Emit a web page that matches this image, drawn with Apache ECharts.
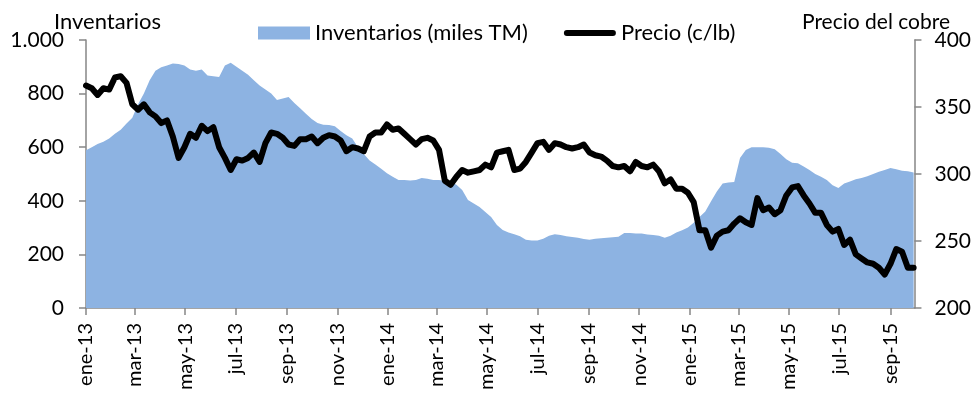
<!DOCTYPE html>
<html>
<head>
<meta charset="utf-8">
<script src="https://cdn.jsdelivr.net/npm/echarts@6/dist/echarts.min.js"></script>
<style>
  html, body { margin: 0; padding: 0; background: #fff; }
  #chart { width: 974px; height: 395px; }
</style>
</head>
<body>
<div id="chart"></div>
<script>
// Weekly observations, starting 2013-01-01, one value every 7 days
const startDate = '2013-01-01';
const endDate = '2015-09-30';
const stepDays = 7;

// LME copper inventories (thousand tonnes)
const inventarios = [
  589, 600, 612, 620, 632, 650, 665, 688, 710, 760,
  800, 850, 885, 898, 905, 912, 910, 905, 890, 885,
  890, 868, 865, 862, 905, 915, 900, 885, 870, 850,
  830, 815, 800, 776, 782, 787, 765, 745, 725, 705,
  690, 684, 683, 678, 660, 645, 632, 600, 575, 550,
  535, 520, 503, 490, 478, 478, 476, 478, 485, 482,
  478, 478, 474, 470, 460, 440, 403, 390, 377, 358,
  340, 310, 291, 282, 275, 268, 255, 252, 252, 258,
  270, 275, 272, 268, 265, 262, 257, 255, 258, 260,
  262, 264, 266, 280, 280, 278, 278, 274, 272, 270,
  262, 270, 282, 290, 300, 318, 340, 360, 398, 435,
  465, 468, 470, 560, 590, 600, 600, 600, 598, 592,
  575, 555, 542, 540, 528, 515, 500, 490, 478, 458,
  448, 465, 472, 480, 485, 492, 500, 508, 515, 522,
  518, 512, 510, 506
];

// Copper price (US cents per pound)
const precio = [
  366, 364, 359, 364, 363, 372, 373, 368, 352, 348,
  352, 346, 343, 338, 340, 328, 312, 320, 330, 327,
  336, 332, 335, 320, 312, 303, 311, 310, 312, 316,
  309, 323, 331, 330, 327, 322, 321, 326, 326, 328,
  323, 327, 329, 328, 325, 317, 320, 319, 317, 328,
  331, 331, 337, 333, 334, 330, 326, 322, 326, 327,
  325, 318, 295, 292, 298, 303, 301, 302, 303, 307,
  305, 316, 317, 318, 303, 304, 309, 316, 323, 324,
  318, 323, 322, 320, 319, 320, 322, 316, 314, 313,
  310, 306, 305, 306, 302, 309, 306, 305, 307, 302,
  293, 296, 289, 289, 286, 279, 258, 258, 245, 254,
  257, 258, 263, 267, 264, 262, 282, 273, 275, 270,
  273, 284, 290, 291, 284, 278, 271, 271, 262, 257,
  259, 247, 251, 240, 237, 234, 233, 230, 225, 233,
  244, 242, 230, 230
];

const mesesAbrev = ['ene', 'feb', 'mar', 'abr', 'may', 'jun', 'jul', 'ago', 'sep', 'oct', 'nov', 'dic'];
const serieInventarios = 'Inventarios (miles TM)';
const seriePrecio = 'Precio (c/lb)';

// Daily calendar for the date axis
const dias = [];
{
  const d = new Date(startDate + 'T00:00:00Z');
  const fin = new Date(endDate + 'T00:00:00Z');
  while (d <= fin) {
    dias.push(d.toISOString().slice(0, 10));
    d.setUTCDate(d.getUTCDate() + 1);
  }
}

// Major ticks every two months (ene, mar, may, ...)
function esMarcaBimestral(idx) {
  const s = dias[idx];
  const mes = +s.slice(5, 7) - 1;
  return s.slice(8, 10) === '01' && mes % 2 === 0;
}
function etiquetaMes(s) {
  const mes = +s.slice(5, 7) - 1;
  return mesesAbrev[mes] + '-' + s.slice(2, 4);
}

const FONT = 'Lato';
const gris = '#868686';

// Thick rounded stroke for the price legend key (corner moves keep the 52x13 box)
const iconoLinea = 'path://M0,0M52,13M3,3.5A3,3,0,0,0,3,9.5L49,9.5A3,3,0,0,0,49,3.5Z';

const chart = echarts.init(document.getElementById('chart'), null, { renderer: 'canvas' });
chart.setOption({
  animation: false,
  textStyle: { fontFamily: FONT, color: '#000' },
  title: [
    { text: 'Inventarios', left: 49, top: 6, textStyle: { fontFamily: FONT, fontSize: 22, fontWeight: 'normal', color: '#000' } },
    { text: 'Precio del cobre', left: 797, top: 7, textStyle: { fontFamily: FONT, fontSize: 21, fontWeight: 'normal', color: '#000' } }
  ],
  legend: {
    left: 253,
    top: 17,
    itemWidth: 52,
    itemHeight: 13,
    itemGap: 36,
    textStyle: { fontFamily: FONT, fontSize: 22, color: '#000' },
    data: [
      { name: serieInventarios, icon: 'rect' },
      { name: seriePrecio, icon: iconoLinea }
    ]
  },
  grid: { left: 86, right: 59, top: 40, bottom: 87, containLabel: false },
  xAxis: {
    type: 'category',
    data: dias,
    boundaryGap: false,
    axisLine: { lineStyle: { color: gris, width: 1.5 } },
    axisTick: {
      interval: (i) => esMarcaBimestral(i),
      length: 7,
      lineStyle: { color: gris, width: 1.5 }
    },
    axisLabel: {
      interval: (i) => esMarcaBimestral(i),
      formatter: (v) => etiquetaMes(v),
      rotate: 90,
      margin: 15,
      fontFamily: FONT,
      fontSize: 20,
      color: '#000'
    },
    splitLine: { show: false }
  },
  yAxis: [
    {
      type: 'value',
      min: 0,
      max: 1000,
      interval: 200,
      position: 'left',
      axisLine: { show: true, lineStyle: { color: gris, width: 1.5 } },
      axisTick: { show: true, length: 7, lineStyle: { color: gris, width: 1.5 } },
      axisLabel: {
        margin: 22,
        fontFamily: FONT,
        fontSize: 21,
        color: '#000',
        formatter: (v) => v >= 1000 ? (v / 1000) + '.' + String(v % 1000).padStart(3, '0') : String(v)
      },
      splitLine: { show: false }
    },
    {
      type: 'value',
      min: 200,
      max: 400,
      interval: 50,
      position: 'right',
      axisLine: { show: true, lineStyle: { color: gris, width: 1.5 } },
      axisTick: { show: true, length: 7, lineStyle: { color: gris, width: 1.5 } },
      axisLabel: { margin: 20, fontFamily: FONT, fontSize: 21, color: '#000' },
      splitLine: { show: false }
    }
  ],
  series: [
    {
      name: serieInventarios,
      type: 'line',
      yAxisIndex: 0,
      symbol: 'none',
      color: '#8DB3E2',
      lineStyle: { width: 0 },
      areaStyle: { color: '#8DB3E2', opacity: 1 },
      z: 1,
      data: inventarios.map((v, i) => [i * stepDays, v])
    },
    {
      name: seriePrecio,
      type: 'line',
      yAxisIndex: 1,
      symbol: 'none',
      color: '#000',
      lineStyle: { color: '#000', width: 6, cap: 'round', join: 'round' },
      z: 3,
      data: precio.map((v, i) => [i * stepDays, v])
    }
  ]
});
</script>
</body>
</html>
